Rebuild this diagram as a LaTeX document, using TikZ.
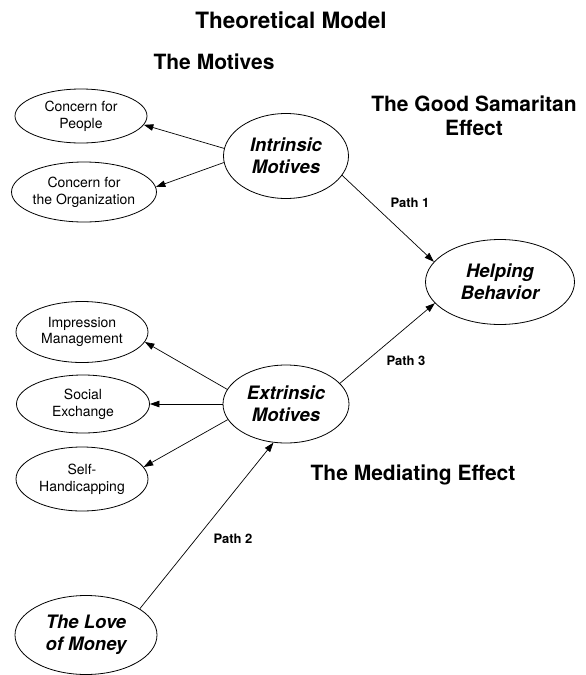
\documentclass[tikz,border=0pt]{standalone}
\usepackage{fontspec}
\setmainfont{TeX Gyre Heros}
\usetikzlibrary{arrows.meta,shapes.geometric}
\begin{document}
\begin{tikzpicture}[x=1pt,y=-1pt,
  ell/.style={ellipse,draw,line width=0.8pt,inner sep=0pt,align=center},
  small/.style={ell,font=\fontsize{14}{16.7}\selectfont},
  big/.style={ell,font=\fontsize{18.5}{22}\selectfont\bfseries\itshape},
  head/.style={font=\fontsize{21}{24}\selectfont\bfseries,align=center,inner sep=0pt},
  pathlbl/.style={font=\fontsize{13}{15}\selectfont\bfseries,inner sep=0pt},
  arr/.style={line width=0.7pt,-{Triangle[length=9.5pt,width=6.5pt]}}]
\useasboundingbox (0,0) rectangle (586,675);
% titles
\node[head,font=\fontsize{22.5}{26}\selectfont\bfseries] (title) at (291,20) {Theoretical Model};
\node[head] (motives) at (214,62) {The Motives};
\node[head] (samaritan) at (474,116) {The Good Samaritan\\Effect};
\node[head] (mediating) at (413,475) {The Mediating Effect};
% ellipses
\node[small,minimum width=132pt,minimum height=54pt] (cfp) at (81,116) {Concern for\\People};
\node[small,minimum width=137pt,minimum height=60pt] (cfo) at (84,192) {Concern for\\the Organization};
\node[big,minimum width=125pt,minimum height=85pt] (intr) at (286,156) {Intrinsic\\Motives};
\node[big,minimum width=149pt,minimum height=85pt] (help) at (500,282) {Helping\\Behavior};
\node[small,minimum width=132pt,minimum height=61pt] (imp) at (82,332) {Impression\\Management};
\node[small,minimum width=133pt,minimum height=58pt] (soc) at (83,404) {Social\\Exchange};
\node[big,minimum width=126pt,minimum height=78pt] (extr) at (286,404) {Extrinsic\\Motives};
\node[small,minimum width=132pt,minimum height=64pt] (self) at (82,479) {Self-\\Handicapping};
\node[big,minimum width=142pt,minimum height=79pt] (love) at (86,635) {The Love\\of Money};
% path labels
\node[pathlbl] (p1) at (410,203) {Path 1};
\node[pathlbl] (p2) at (233,539) {Path 2};
\node[pathlbl] (p3) at (406,361) {Path 3};
% connectors
\draw[arr] (intr.173) -- (cfp.-8);
\draw[arr] (intr.186) -- (cfo.4);
\draw[arr] (intr.-19) -- (help.163);
\draw[arr] (extr.21) -- (help.198);
\draw[arr] (extr.166) -- (imp.-9);
\draw[arr] (extr.180) -- (soc.0);
\draw[arr] (extr.195) -- (self.11);
\draw[arr] (love.26) -- (extr.252);
\end{tikzpicture}
\end{document}
